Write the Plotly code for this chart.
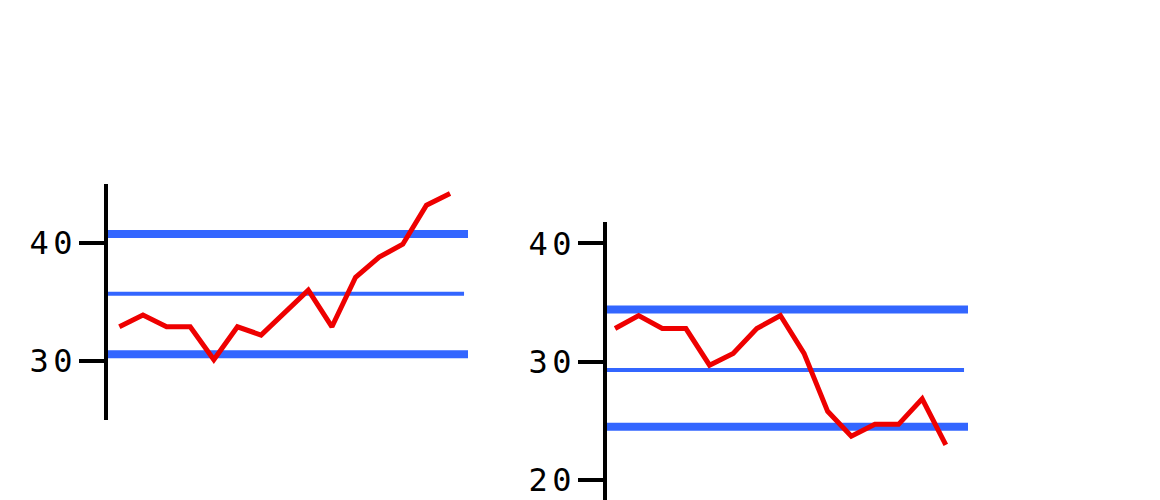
import plotly.graph_objects as go
from plotly.subplots import make_subplots

# left panel
left_vals = [32.9, 33.9, 32.9, 32.9, 30.1, 32.9, 32.2, 34.1, 36.0, 32.9, 37.1, 38.8, 39.9, 43.2, 44.2]
left_mean = 35.7
left_upper = 40.76
left_lower = 30.57

# right panel
right_vals = [32.8, 33.9, 32.8, 32.8, 29.7, 30.7, 32.8, 33.9, 30.7, 25.8, 23.7, 24.7, 24.7, 26.85, 22.96]
right_mean = 29.3
right_upper = 34.4
right_lower = 24.5

left_ticks = [30, 40]
right_ticks = [20, 30, 40]

RED = "#ee0000"
BLUE = "#3366ff"


def spaced(n):
    # the labels in the picture are drawn with wide letter spacing
    s = str(n)
    return "<span style='letter-spacing:4.5px'>" + s[:-1] + "</span>" + s[-1]


fig = make_subplots(rows=1, cols=2)

fig.add_trace(go.Scatter(y=left_vals, mode="lines", line=dict(color=RED, width=5)), row=1, col=1)
fig.add_trace(go.Scatter(y=right_vals, mode="lines", line=dict(color=RED, width=5)), row=1, col=2)

for xa, ya, lo, mid, hi in [("x", "y", left_lower, left_mean, left_upper),
                            ("x2", "y2", right_lower, right_mean, right_upper)]:
    for val, w, x1 in [(hi, 8, 1), (lo, 8, 1), (mid, 4, 0.989)]:
        fig.add_shape(type="line", xref=xa + " domain", yref=ya, x0=0, x1=x1, y0=val, y1=val,
                      line=dict(color=BLUE, width=w), layer="below")

axis_style = dict(showline=True, linecolor="black", linewidth=4, ticks="outside",
                  ticklen=25, tickwidth=4, tickcolor="black", showgrid=False, zeroline=False,
                  automargin=False,
                  tickfont=dict(family="DejaVu Sans Mono", size=32, color="black"))

fig.update_layout(
    xaxis=dict(domain=[100 / 1160, 460 / 1160], range=[-0.48, 14.76], visible=False),
    xaxis2=dict(domain=[599 / 1160, 960 / 1160], range=[-0.34, 14.94], visible=False),
    yaxis=dict(domain=[0.176, 0.648], range=[25, 45], tickvals=left_ticks,
               ticktext=[spaced(t) for t in left_ticks], **axis_style),
    yaxis2=dict(domain=[0, 0.5726], range=[17.63, 41.83], tickvals=right_ticks,
                ticktext=[spaced(t) for t in right_ticks], **axis_style),
    width=1160, height=500,
    margin=dict(l=0, r=0, t=0, b=0),
    paper_bgcolor="white", plot_bgcolor="white",
    showlegend=False,
)

fig.write_html("out.html")
